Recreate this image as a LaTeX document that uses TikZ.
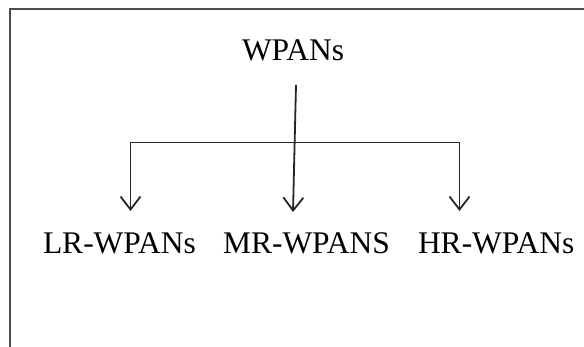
\documentclass[tikz,border=0pt]{standalone}
\usepackage{fontspec}
\setmainfont{Liberation Serif}
\usetikzlibrary{arrows.meta}
\begin{document}
\begin{tikzpicture}[x=1pt,y=-1pt,
  lbl/.style={inner sep=0pt,outer sep=0pt,font=\fontsize{31.5}{33}\selectfont,anchor=base west},
  link/.style={line width=1.8pt,black!85,line join=miter},
  tip/.style={link,-{Straight Barb[length=13pt,width=20pt,line width=1.8pt]}},
  frame/.style={line width=2pt,black!70}]
  \useasboundingbox (0,0) rectangle (584,347);
  % open frame: top and left edges only
  \draw[frame] (584,9) -- (10,9) -- (10,347);
  % labels
  \node[lbl] (root) at (242,61) {WPANs};
  \node[lbl] (lr) at (43,254) {LR-WPANs};
  \node[lbl] (mr) at (223,254) {MR-WPANS};
  \node[lbl] (hr) at (418,254) {HR-WPANs};
  % connector points
  \coordinate (stem) at (296,85);
  \coordinate (bar) at (295,142.5);
  \coordinate (tipL) at (130.5,211);
  \coordinate (tipM) at (293,212);
  \coordinate (tipR) at (459.5,211);
  % connectors
  \draw[tip] (stem) -- (tipM);
  \draw[tip] (bar) -| (tipL);
  \draw[tip] (bar) -| (tipR);
\end{tikzpicture}
\end{document}
